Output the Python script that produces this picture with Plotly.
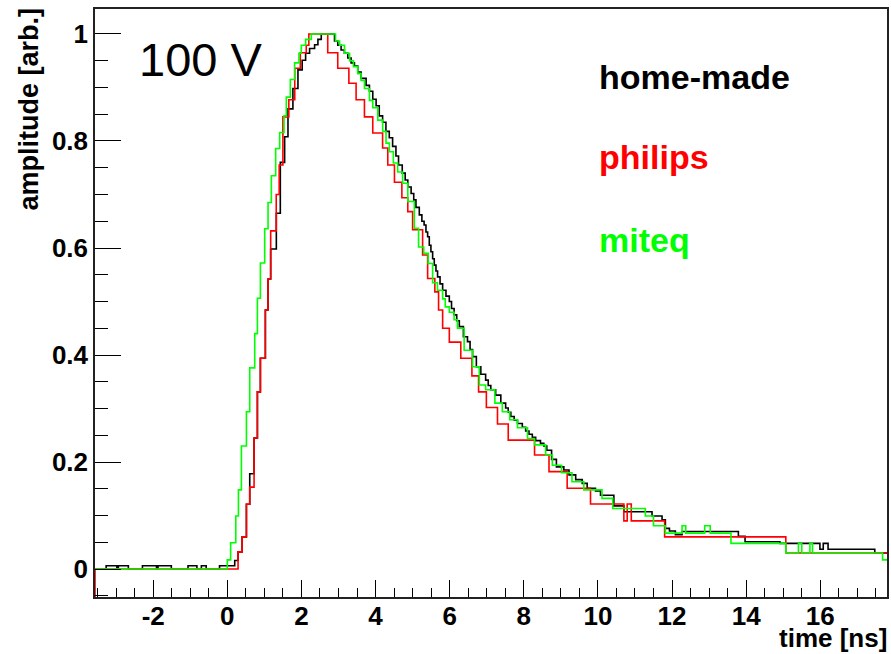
import plotly.graph_objects as go

# ---- data (bin left edges, bin contents; last edge closes the final bin) ----
home_edges = [-3.57, -3.27, -2.98, -2.94, -2.67, -2.29, -1.91, -1.87, -1.51, -1.06, -0.82, -0.70, -0.57, -0.21,
              0.20, 0.29, 0.40, 0.516, 0.605, 0.722, 0.812, 0.893, 1.027, 1.099, 1.17, 1.323, 1.43, 1.547, 1.637,
              1.77, 1.906, 2.02, 2.113, 2.22, 2.355, 2.445, 2.535, 2.893, 2.98, 3.07, 3.16, 3.25, 3.34, 3.43, 3.52,
              3.61, 3.745, 3.835, 3.925, 4.015, 4.10, 4.19, 4.28, 4.37, 4.46, 4.55, 4.62, 4.72, 4.80, 4.87, 4.96,
              5.03, 5.09, 5.18, 5.25, 5.31, 5.36, 5.405, 5.45, 5.494, 5.54, 5.584, 5.63, 5.673, 5.74, 5.81, 5.90,
              5.99, 6.05, 6.12, 6.19, 6.26, 6.37, 6.48, 6.55, 6.617, 6.72, 6.84, 6.97, 7.04, 7.11, 7.24, 7.38, 7.51,
              7.58, 7.65, 7.74, 7.83, 7.96, 8.05, 8.14, 8.23, 8.32, 8.45, 8.54, 8.62, 8.75, 8.88, 9.08, 9.22, 9.40,
              9.577, 9.71, 9.935, 10.07, 10.43, 10.70, 11.46, 11.73, 11.82, 11.93, 12.09, 12.27, 13.79, 13.97, 14.91,
              15.99, 16.08, 16.21, 17.47, 17.86]
home_vals = [0, 0.006, 0, 0.006, 0, 0.006, 0, 0.006, 0, 0.006, 0, 0.006, 0, 0.006,
             0.016, 0.032, 0.06, 0.121, 0.178, 0.245, 0.331, 0.394, 0.484, 0.542, 0.598, 0.665, 0.76, 0.808, 0.86,
             0.898, 0.933, 0.951, 0.964, 0.973, 0.98, 0.99, 1.0, 0.987, 0.979, 0.97, 0.964, 0.955, 0.946, 0.94, 0.929,
             0.917, 0.904, 0.893, 0.878, 0.866, 0.847, 0.835, 0.818, 0.806, 0.79, 0.772, 0.755, 0.74, 0.727, 0.714,
             0.702, 0.69, 0.676, 0.662, 0.65, 0.643, 0.63, 0.621, 0.605, 0.593, 0.58, 0.568, 0.557, 0.546, 0.533,
             0.521, 0.51, 0.50, 0.487, 0.475, 0.464, 0.453, 0.434, 0.425, 0.41, 0.397, 0.378, 0.364, 0.353, 0.343,
             0.335, 0.325, 0.31, 0.301, 0.293, 0.285, 0.278, 0.272, 0.265, 0.258, 0.252, 0.246, 0.24, 0.235, 0.23,
             0.222, 0.205, 0.191, 0.185, 0.176, 0.167, 0.16, 0.151, 0.146, 0.138, 0.118, 0.107, 0.099, 0.092, 0.076,
             0.071, 0.064, 0.07, 0.061, 0.051, 0.048, 0.037, 0.048, 0.037, 0.03]

philips_edges = [-3.7, -3.57, 0.29, 0.40, 0.516, 0.605, 0.722, 0.812, 0.893, 1.027, 1.099, 1.17, 1.32, 1.40, 1.50,
                 1.66, 1.82, 1.97, 2.13, 2.20, 2.71, 2.98, 3.28, 3.475, 3.70, 3.925, 4.19, 4.33, 4.51, 4.71, 4.87,
                 5.00, 5.27, 5.405, 5.60, 5.70, 5.81, 5.99, 6.30, 6.60, 6.78, 6.99, 7.29, 7.58, 8.29, 8.68, 9.17,
                 9.80, 10.70, 10.79, 10.90, 11.80, 15.07, 17.80]
philips_vals = [-0.2, 0, 0.032, 0.06, 0.121, 0.153, 0.245, 0.331, 0.394, 0.484, 0.542, 0.632, 0.70, 0.755, 0.845,
                0.877, 0.936, 0.965, 0.979, 1.0, 0.965, 0.936, 0.908, 0.877, 0.845, 0.815, 0.787, 0.755, 0.723,
                0.694, 0.668, 0.634, 0.587, 0.543, 0.518, 0.484, 0.45, 0.424, 0.394, 0.361, 0.331, 0.302, 0.271,
                0.241, 0.213, 0.182, 0.151, 0.1215, 0.09, 0.1215, 0.09, 0.06, 0.03]

miteq_edges = [-3.57, 0.0, 0.09, 0.229, 0.30, 0.38, 0.516, 0.605, 0.74, 0.812, 0.893, 1.009, 1.099, 1.188, 1.305,
               1.413, 1.53, 1.592, 1.70, 1.816, 1.933, 1.996, 2.113, 2.265, 2.92, 3.03, 3.162, 3.30, 3.404, 3.52,
               3.61, 3.70, 3.835, 3.925, 4.06, 4.193, 4.283, 4.373, 4.48, 4.597, 4.73, 4.87, 5.046, 5.16, 5.30,
               5.42, 5.54, 5.67, 5.81, 5.88, 5.99, 6.12, 6.21, 6.39, 6.617, 6.80, 6.97, 7.22, 7.42, 7.62, 7.83,
               8.10, 8.29, 8.59, 8.77, 9.02, 9.30, 9.62, 10.11, 10.40, 11.28, 11.50, 11.82, 12.27, 12.37, 12.88,
               13.03, 13.59, 15.07, 15.41, 15.50, 15.72, 15.79, 17.68, 17.85]
miteq_vals = [0, 0.017, 0.049, 0.099, 0.148, 0.23, 0.294, 0.376, 0.44, 0.506, 0.572, 0.636, 0.685, 0.735, 0.786,
              0.816, 0.847, 0.882, 0.915, 0.946, 0.964, 0.979, 0.99, 1.0, 0.987, 0.979, 0.964, 0.95, 0.939, 0.926,
              0.913, 0.898, 0.876, 0.862, 0.839, 0.818, 0.796, 0.78, 0.759, 0.742, 0.721, 0.687, 0.637, 0.602,
              0.59, 0.571, 0.535, 0.521, 0.505, 0.49, 0.48, 0.466, 0.45, 0.409, 0.378, 0.344, 0.335, 0.31, 0.294,
              0.279, 0.264, 0.244, 0.232, 0.213, 0.194, 0.18, 0.163, 0.148, 0.132, 0.113, 0.099, 0.081, 0.067,
              0.081, 0.067, 0.081, 0.067, 0.048, 0.030, 0.048, 0.030, 0.048, 0.030, 0.017]

series = [
    ("home-made", home_edges, home_vals, "#000000"),
    ("philips", philips_edges, philips_vals, "#ff0000"),
    ("miteq", miteq_edges, miteq_vals, "#00ff00"),
]

x_tickvals = [-2, 0, 2, 4, 6, 8, 10, 12, 14, 16]
x_ticktext = ["-2", "0", "2", "4", "6", "8", "10", "12", "14", "16"]
y_tickvals = [0, 0.2, 0.4, 0.6, 0.8, 1.0]
y_ticktext = ["0", "0.2", "0.4", "0.6", "0.8", "1"]

x_range = [-3.57, 17.80]
y_range = [-0.0523, 1.0467]

FONT = "Liberation Sans, Arial, Helvetica, sans-serif"

fig = go.Figure()
for name, edges, vals, col in series:
    fig.add_trace(go.Scatter(
        x=edges, y=list(vals) + [vals[-1]],
        mode="lines", line=dict(color=col, width=1.6, shape="hv"),
        name=name, showlegend=False, hoverinfo="skip"))

axis_common = dict(
    showgrid=False, zeroline=False, showline=True, mirror=True,
    linecolor="#222222", linewidth=1.5,
    ticks="inside", tickcolor="#000000", tickwidth=1.3,
    tickfont=dict(family=FONT, size=26, color="#000000", weight="bold"),
)

fig.update_xaxes(range=x_range, tickvals=x_tickvals, ticktext=x_ticktext, ticklen=17,
                 ticklabelstandoff=-5,
                 minor=dict(dtick=0.5, tick0=0, ticks="inside", ticklen=9, tickcolor="#000000", tickwidth=1.3),
                 **axis_common)
fig.update_yaxes(range=y_range, tickvals=y_tickvals, ticktext=y_ticktext, ticklen=26,
                 minor=dict(dtick=0.05, tick0=0, ticks="inside", ticklen=13, tickcolor="#000000", tickwidth=1.3),
                 **axis_common)

legend_font = dict(family=FONT, size=34, weight="bold")
annotations = [
    dict(text="home-made", x=9.97, y=0.92, color="#000000"),
    dict(text="philips", x=9.97, y=0.77, color="#ff0000"),
    dict(text="miteq", x=9.97, y=0.615, color="#00ff00"),
]
for a in annotations:
    fig.add_annotation(x=a["x"], y=a["y"], xref="x", yref="y", text=a["text"], showarrow=False,
                       xanchor="left", yanchor="middle",
                       font=dict(color=a["color"], **legend_font))

fig.add_annotation(x=-2.45, y=0.953, xref="x", yref="y", text="100 V", showarrow=False,
                   xanchor="left", yanchor="middle",
                   font=dict(family=FONT, size=47, color="#000000"))

fig.add_annotation(x=1.0, y=0.0, xref="paper", yref="paper", text="time [ns]", showarrow=False,
                   xanchor="right", yanchor="bottom", yshift=-57, xshift=1, borderpad=0,
                   font=dict(family=FONT, size=26, color="#000000", weight="bold"))
fig.add_annotation(x=0.0, y=1.0, xref="paper", yref="paper", text="amplitude [arb.]", showarrow=False,
                   textangle=-90, xanchor="center", yanchor="top", xshift=-67, yshift=2, borderpad=0,
                   font=dict(family=FONT, size=27, color="#000000", weight="bold"))

fig.update_layout(
    width=891, height=654,
    margin=dict(l=95, r=2, t=9, b=57),
    paper_bgcolor="white", plot_bgcolor="white",
    showlegend=False,
)

fig.write_html("out.html")
